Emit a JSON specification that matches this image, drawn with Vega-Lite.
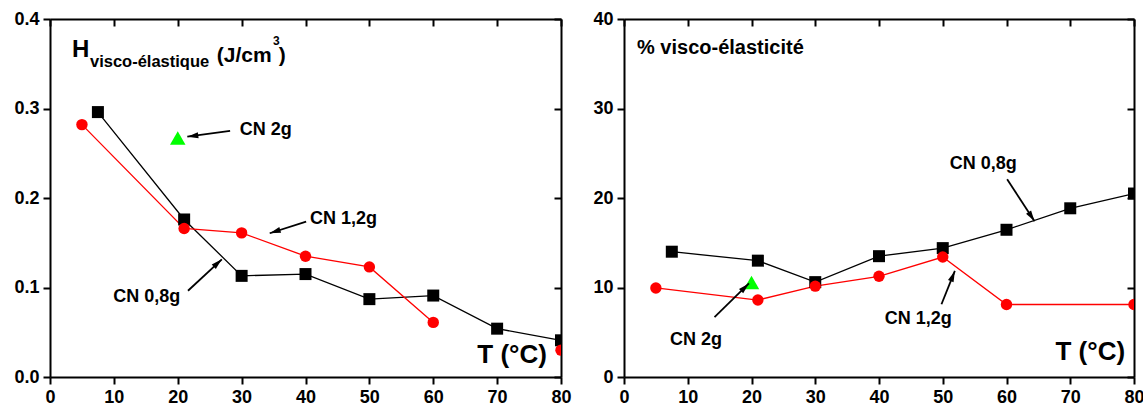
{
  "$schema": "https://vega.github.io/schema/vega-lite/v6.json",
  "padding": {"left": 13, "top": 10, "right": 5, "bottom": 2},
  "background": "white",
  "spacing": 20,
  "datasets": {
    "h": [
      {"serie": "CN 0,8g", "T": 7.5, "H": 0.296},
      {"serie": "CN 0,8g", "T": 21, "H": 0.176},
      {"serie": "CN 0,8g", "T": 30, "H": 0.113},
      {"serie": "CN 0,8g", "T": 40, "H": 0.115},
      {"serie": "CN 0,8g", "T": 50, "H": 0.087},
      {"serie": "CN 0,8g", "T": 60, "H": 0.091},
      {"serie": "CN 0,8g", "T": 70, "H": 0.054},
      {"serie": "CN 0,8g", "T": 80, "H": 0.041},
      {"serie": "CN 1,2g", "T": 5, "H": 0.282},
      {"serie": "CN 1,2g", "T": 21, "H": 0.166},
      {"serie": "CN 1,2g", "T": 30, "H": 0.161},
      {"serie": "CN 1,2g", "T": 40, "H": 0.135},
      {"serie": "CN 1,2g", "T": 50, "H": 0.123},
      {"serie": "CN 1,2g", "T": 60, "H": 0.061},
      {"serie": "CN 1,2g", "T": 70, "H": null},
      {"serie": "CN 1,2g", "T": 80, "H": 0.030},
      {"serie": "CN 2g", "T": 20, "H": 0.267}
    ],
    "pv": [
      {"serie": "CN 0,8g", "T": 7.5, "P": 14.0},
      {"serie": "CN 0,8g", "T": 21, "P": 13.0},
      {"serie": "CN 0,8g", "T": 30, "P": 10.6},
      {"serie": "CN 0,8g", "T": 40, "P": 13.5},
      {"serie": "CN 0,8g", "T": 50, "P": 14.4},
      {"serie": "CN 0,8g", "T": 60, "P": 16.45},
      {"serie": "CN 0,8g", "T": 70, "P": 18.85},
      {"serie": "CN 0,8g", "T": 80, "P": 20.5},
      {"serie": "CN 1,2g", "T": 5, "P": 9.95},
      {"serie": "CN 1,2g", "T": 21, "P": 8.6},
      {"serie": "CN 1,2g", "T": 30, "P": 10.15},
      {"serie": "CN 1,2g", "T": 40, "P": 11.25},
      {"serie": "CN 1,2g", "T": 50, "P": 13.4},
      {"serie": "CN 1,2g", "T": 60, "P": 8.1},
      {"serie": "CN 1,2g", "T": 80, "P": 8.1},
      {"serie": "CN 2g", "T": 20, "P": 10.55}
    ],
    "arrows": [
      {"panel": "L", "x1": 28.2, "y1": 0.275, "x2": 21.5, "y2": 0.2685},
      {"panel": "L", "x1": 40.1, "y1": 0.1735, "x2": 34.4, "y2": 0.1606},
      {"panel": "L", "x1": 21.6, "y1": 0.0964, "x2": 26.9, "y2": 0.1315},
      {"panel": "R", "x1": 60.1, "y1": 22.1, "x2": 64.4, "y2": 17.4},
      {"panel": "R", "x1": 49.8, "y1": 8.13, "x2": 51.9, "y2": 11.85},
      {"panel": "R", "x1": 14.2, "y1": 6.7, "x2": 19.6, "y2": 10.45}
    ],
    "labels": [
      {"panel": "L", "x": 29.7, "y": 0.2704, "text": "CN 2g"},
      {"panel": "L", "x": 40.7, "y": 0.171, "text": "CN 1,2g"},
      {"panel": "L", "x": 9.9, "y": 0.0841, "text": "CN 0,8g"},
      {"panel": "L", "x": 77.8, "y": 0.0153, "text": "T (°C)"},
      {"panel": "R", "x": 51.1, "y": 23.25, "text": "CN 0,8g"},
      {"panel": "R", "x": 40.9, "y": 5.9, "text": "CN 1,2g"},
      {"panel": "R", "x": 7.2, "y": 3.57, "text": "CN 2g"},
      {"panel": "R", "x": 78.6, "y": 1.89, "text": "T (°C)"}
    ],
    "titleL": [
      {"x": 3.44, "y": 0.3579, "text": "H", "part": "main"},
      {"x": 6.26, "y": 0.3467, "text": "visco-élastique", "part": "sub"},
      {"x": 26.1, "y": 0.3523, "text": "(J/cm", "part": "unit"},
      {"x": 34.9, "y": 0.3706, "text": "3", "part": "sup"},
      {"x": 35.8, "y": 0.3523, "text": ")", "part": "unit"}
    ],
    "titleR": [
      {"x": 2.04, "y": 36.07, "text": "% visco-élasticité"}
    ]
  },
  "hconcat": [
    {
      "width": 511,
      "height": 358,
      "resolve": {"axis": {"x": "independent", "y": "independent"}},
      "layer": [
        {
          "data": {"name": "h"},
          "mark": {"type": "line", "strokeWidth": 1.3, "clip": true, "invalid": "break-paths-filter-domains"},
          "encoding": {
            "x": {"field": "T", "type": "quantitative", "scale": {"domain": [0, 80], "nice": false},
                  "axis": {"orient": "bottom", "values": [0, 10, 20, 30, 40, 50, 60, 70, 80]}},
            "y": {"field": "H", "type": "quantitative", "scale": {"domain": [0, 0.4], "nice": false},
                  "axis": {"orient": "left", "values": [0, 0.1, 0.2, 0.3, 0.4], "format": ".1f"}},
            "color": {"field": "serie", "type": "nominal",
                      "scale": {"domain": ["CN 0,8g", "CN 1,2g", "CN 2g"], "range": ["#000000", "#ff0000", "#00ff00"]},
                      "legend": null}
          }
        },
        {
          "data": {"name": "h"},
          "transform": [{"filter": "isValid(datum.H)"}],
          "mark": {"type": "point", "filled": true, "opacity": 1, "clip": true},
          "encoding": {
            "x": {"field": "T", "type": "quantitative", "scale": {"domain": [0, 80], "nice": false},
                  "axis": {"orient": "top", "values": [0, 10, 20, 30, 40, 50, 60, 70, 80], "labels": false, "tickSize": -7}},
            "y": {"field": "H", "type": "quantitative", "scale": {"domain": [0, 0.4], "nice": false},
                  "axis": {"orient": "right", "values": [0, 0.1, 0.2, 0.3, 0.4], "labels": false, "tickSize": -7}},
            "color": {"field": "serie", "type": "nominal",
                      "scale": {"domain": ["CN 0,8g", "CN 1,2g", "CN 2g"], "range": ["#000000", "#ff0000", "#00ff00"]},
                      "legend": null},
            "shape": {"field": "serie", "type": "nominal",
                      "scale": {"domain": ["CN 0,8g", "CN 1,2g", "CN 2g"], "range": ["square", "circle", "triangle-up"]},
                      "legend": null},
            "size": {"field": "serie", "type": "nominal",
                     "scale": {"type": "ordinal", "domain": ["CN 0,8g", "CN 1,2g", "CN 2g"], "range": [144, 130, 240]},
                     "legend": null}
          }
        },
        {
          "data": {"name": "arrows"},
          "transform": [{"filter": "datum.panel === 'L'"}],
          "mark": {"type": "rule", "strokeWidth": 1.8, "color": "#000"},
          "encoding": {
            "x": {"field": "x1", "type": "quantitative", "scale": {"domain": [0, 80], "nice": false}, "axis": null},
            "y": {"field": "y1", "type": "quantitative", "scale": {"domain": [0, 0.4], "nice": false}, "axis": null},
            "x2": {"field": "x2"},
            "y2": {"field": "y2"}
          }
        },
        {
          "data": {"name": "arrows"},
          "transform": [
            {"filter": "datum.panel === 'L'"},
            {"calculate": "atan2((datum.x2 - datum.x1) * 6.39, (datum.y2 - datum.y1) * 895) * 180 / PI", "as": "ang"}
          ],
          "mark": {"type": "point", "shape": "M0,0L-0.6,2.2L0.6,2.2Z", "size": 100, "filled": true, "opacity": 1, "color": "#000"},
          "encoding": {
            "x": {"field": "x2", "type": "quantitative", "scale": {"domain": [0, 80], "nice": false}, "axis": null},
            "y": {"field": "y2", "type": "quantitative", "scale": {"domain": [0, 0.4], "nice": false}, "axis": null},
            "angle": {"field": "ang", "type": "quantitative", "scale": null}
          }
        },
        {
          "data": {"name": "labels"},
          "transform": [{"filter": "datum.panel === 'L' && datum.text !== 'T (°C)'"}],
          "mark": {"type": "text", "align": "left", "baseline": "alphabetic", "fontSize": 18, "fontWeight": "bold", "color": "#000"},
          "encoding": {
            "x": {"field": "x", "type": "quantitative", "scale": {"domain": [0, 80], "nice": false}, "axis": null},
            "y": {"field": "y", "type": "quantitative", "scale": {"domain": [0, 0.4], "nice": false}, "axis": null},
            "text": {"field": "text"}
          }
        },
        {
          "data": {"name": "labels"},
          "transform": [{"filter": "datum.panel === 'L' && datum.text === 'T (°C)'"}],
          "mark": {"type": "text", "align": "right", "baseline": "alphabetic", "fontSize": 26, "fontWeight": "bold", "color": "#000"},
          "encoding": {
            "x": {"field": "x", "type": "quantitative", "scale": {"domain": [0, 80], "nice": false}, "axis": null},
            "y": {"field": "y", "type": "quantitative", "scale": {"domain": [0, 0.4], "nice": false}, "axis": null},
            "text": {"field": "text"}
          }
        },
        {
          "data": {"name": "titleL"},
          "transform": [{"filter": "datum.part === 'main'"}],
          "mark": {"type": "text", "align": "left", "baseline": "alphabetic", "fontSize": 24, "fontWeight": "bold", "color": "#000"},
          "encoding": {
            "x": {"field": "x", "type": "quantitative", "scale": {"domain": [0, 80], "nice": false}, "axis": null},
            "y": {"field": "y", "type": "quantitative", "scale": {"domain": [0, 0.4], "nice": false}, "axis": null},
            "text": {"field": "text"}
          }
        },
        {
          "data": {"name": "titleL"},
          "transform": [{"filter": "datum.part === 'sub'"}],
          "mark": {"type": "text", "align": "left", "baseline": "alphabetic", "fontSize": 16.5, "fontWeight": "bold", "color": "#000"},
          "encoding": {
            "x": {"field": "x", "type": "quantitative", "scale": {"domain": [0, 80], "nice": false}, "axis": null},
            "y": {"field": "y", "type": "quantitative", "scale": {"domain": [0, 0.4], "nice": false}, "axis": null},
            "text": {"field": "text"}
          }
        },
        {
          "data": {"name": "titleL"},
          "transform": [{"filter": "datum.part === 'unit'"}],
          "mark": {"type": "text", "align": "left", "baseline": "alphabetic", "fontSize": 21, "fontWeight": "bold", "color": "#000"},
          "encoding": {
            "x": {"field": "x", "type": "quantitative", "scale": {"domain": [0, 80], "nice": false}, "axis": null},
            "y": {"field": "y", "type": "quantitative", "scale": {"domain": [0, 0.4], "nice": false}, "axis": null},
            "text": {"field": "text"}
          }
        },
        {
          "data": {"name": "titleL"},
          "transform": [{"filter": "datum.part === 'sup'"}],
          "mark": {"type": "text", "align": "left", "baseline": "alphabetic", "fontSize": 12, "fontWeight": "bold", "color": "#000"},
          "encoding": {
            "x": {"field": "x", "type": "quantitative", "scale": {"domain": [0, 80], "nice": false}, "axis": null},
            "y": {"field": "y", "type": "quantitative", "scale": {"domain": [0, 0.4], "nice": false}, "axis": null},
            "text": {"field": "text"}
          }
        }
      ]
    },
    {
      "width": 510,
      "height": 358,
      "resolve": {"axis": {"x": "independent", "y": "independent"}},
      "layer": [
        {
          "data": {"name": "pv"},
          "mark": {"type": "line", "strokeWidth": 1.3, "clip": true},
          "encoding": {
            "x": {"field": "T", "type": "quantitative", "scale": {"domain": [0, 80], "nice": false},
                  "axis": {"orient": "bottom", "values": [0, 10, 20, 30, 40, 50, 60, 70, 80]}},
            "y": {"field": "P", "type": "quantitative", "scale": {"domain": [0, 40], "nice": false},
                  "axis": {"orient": "left", "values": [0, 10, 20, 30, 40]}},
            "color": {"field": "serie", "type": "nominal",
                      "scale": {"domain": ["CN 0,8g", "CN 1,2g", "CN 2g"], "range": ["#000000", "#ff0000", "#00ff00"]},
                      "legend": null}
          }
        },
        {
          "data": {"name": "pv"},
          "mark": {"type": "point", "filled": true, "opacity": 1, "clip": true},
          "encoding": {
            "x": {"field": "T", "type": "quantitative", "scale": {"domain": [0, 80], "nice": false},
                  "axis": {"orient": "top", "values": [0, 10, 20, 30, 40, 50, 60, 70, 80], "labels": false, "tickSize": -7}},
            "y": {"field": "P", "type": "quantitative", "scale": {"domain": [0, 40], "nice": false},
                  "axis": {"orient": "right", "values": [0, 10, 20, 30, 40], "labels": false, "tickSize": -7}},
            "color": {"field": "serie", "type": "nominal",
                      "scale": {"domain": ["CN 0,8g", "CN 1,2g", "CN 2g"], "range": ["#000000", "#ff0000", "#00ff00"]},
                      "legend": null},
            "shape": {"field": "serie", "type": "nominal",
                      "scale": {"domain": ["CN 0,8g", "CN 1,2g", "CN 2g"], "range": ["square", "circle", "triangle-up"]},
                      "legend": null},
            "size": {"field": "serie", "type": "nominal",
                     "scale": {"type": "ordinal", "domain": ["CN 0,8g", "CN 1,2g", "CN 2g"], "range": [144, 130, 240]},
                     "legend": null}
          }
        },
        {
          "data": {"name": "arrows"},
          "transform": [{"filter": "datum.panel === 'R'"}],
          "mark": {"type": "rule", "strokeWidth": 1.8, "color": "#000"},
          "encoding": {
            "x": {"field": "x1", "type": "quantitative", "scale": {"domain": [0, 80], "nice": false}, "axis": null},
            "y": {"field": "y1", "type": "quantitative", "scale": {"domain": [0, 40], "nice": false}, "axis": null},
            "x2": {"field": "x2"},
            "y2": {"field": "y2"}
          }
        },
        {
          "data": {"name": "arrows"},
          "transform": [
            {"filter": "datum.panel === 'R'"},
            {"calculate": "atan2((datum.x2 - datum.x1) * 6.375, (datum.y2 - datum.y1) * 8.975) * 180 / PI", "as": "ang"}
          ],
          "mark": {"type": "point", "shape": "M0,0L-0.6,2.2L0.6,2.2Z", "size": 100, "filled": true, "opacity": 1, "color": "#000"},
          "encoding": {
            "x": {"field": "x2", "type": "quantitative", "scale": {"domain": [0, 80], "nice": false}, "axis": null},
            "y": {"field": "y2", "type": "quantitative", "scale": {"domain": [0, 40], "nice": false}, "axis": null},
            "angle": {"field": "ang", "type": "quantitative", "scale": null}
          }
        },
        {
          "data": {"name": "labels"},
          "transform": [{"filter": "datum.panel === 'R' && datum.text !== 'T (°C)'"}],
          "mark": {"type": "text", "align": "left", "baseline": "alphabetic", "fontSize": 18, "fontWeight": "bold", "color": "#000"},
          "encoding": {
            "x": {"field": "x", "type": "quantitative", "scale": {"domain": [0, 80], "nice": false}, "axis": null},
            "y": {"field": "y", "type": "quantitative", "scale": {"domain": [0, 40], "nice": false}, "axis": null},
            "text": {"field": "text"}
          }
        },
        {
          "data": {"name": "labels"},
          "transform": [{"filter": "datum.panel === 'R' && datum.text === 'T (°C)'"}],
          "mark": {"type": "text", "align": "right", "baseline": "alphabetic", "fontSize": 26, "fontWeight": "bold", "color": "#000"},
          "encoding": {
            "x": {"field": "x", "type": "quantitative", "scale": {"domain": [0, 80], "nice": false}, "axis": null},
            "y": {"field": "y", "type": "quantitative", "scale": {"domain": [0, 40], "nice": false}, "axis": null},
            "text": {"field": "text"}
          }
        },
        {
          "data": {"name": "titleR"},
          "mark": {"type": "text", "align": "left", "baseline": "alphabetic", "fontSize": 20, "fontWeight": "bold", "color": "#000"},
          "encoding": {
            "x": {"field": "x", "type": "quantitative", "scale": {"domain": [0, 80], "nice": false}, "axis": null},
            "y": {"field": "y", "type": "quantitative", "scale": {"domain": [0, 40], "nice": false}, "axis": null},
            "text": {"field": "text"}
          }
        }
      ]
    }
  ],
  "config": {
    "font": "Liberation Sans",
    "view": {"stroke": null},
    "axis": {
      "title": null,
      "grid": false,
      "labelFont": "Liberation Sans",
      "labelFontWeight": "bold",
      "labelFontSize": 18,
      "labelColor": "#000",
      "labelPadding": 4,
      "labelFlush": false,
      "labelOverlap": false,
      "domainColor": "#000",
      "domainWidth": 2,
      "tickColor": "#000",
      "tickWidth": 2,
      "tickSize": 7
    }
  }
}
